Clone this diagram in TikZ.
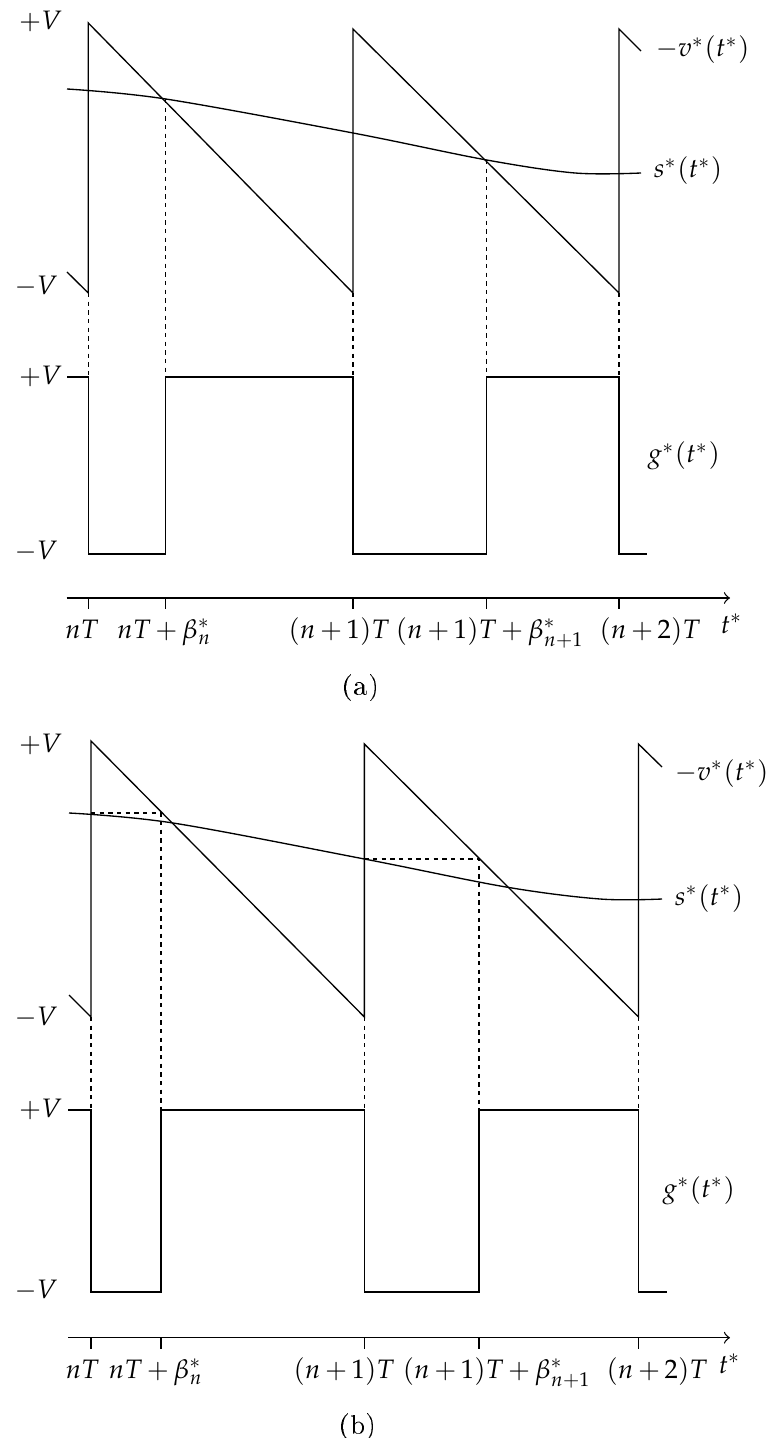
\documentclass[tikz,border=0pt]{standalone}
\usepackage[T1]{fontenc}
\usepackage{mathpazo}
\medmuskip=3mu plus 2mu minus 3mu
\begin{document}
\begin{tikzpicture}[x=0.3pt, y=-0.3pt, font=\fontsize{8}{9.6}\selectfont,
  guide/.style={dash pattern=on 1.3pt off 1.3pt},
  lbl/.style={anchor=base, inner sep=0pt},
  rlbl/.style={anchor=base west, inner sep=0pt}]
  \useasboundingbox (0,0) rectangle (774,1438);
  % (a) natural sampling
  \draw (67,272) -- (88.3,293) -- (88.3,23) -- (353,293) -- (353,29) -- (619,293) -- (619,29) -- (641,51);
  \draw plot[smooth, tension=0.55] coordinates {(67,89) (165.7,99) (353,133) (486.7,160) (575,173) (641,173)};
  \draw[guide] (88.3,293) -- (88.3,377) (165.7,99) -- (165.7,377) (353,293) -- (353,377)
    (486.7,160) -- (486.7,377) (619,293) -- (619,377);
  \draw (67,377) -- (88.3,377) -- (88.3,554) -- (165.7,554) -- (165.7,377) -- (353,377) -- (353,554)
    -- (486.7,554) -- (486.7,377) -- (619,377) -- (619,554) -- (647,554);
  \draw[->] (66.7,598) -- (730,598);
  \draw (88.3,598) -- (88.3,609) (165.7,598) -- (165.7,609) (353,598) -- (353,609)
    (486.7,598) -- (486.7,609) (619,598) -- (619,609);
  \node[lbl] (vtopA) at (40.5,30) {$+V$};
  \node[lbl] (vbotA) at (36,295) {$-V$};
  \node[lbl] (gtopA) at (40.5,385) {$+V$};
  \node[lbl] (gbotA) at (36,560) {$-V$};
  \node[rlbl] (vlblA) at (655,57) {$-v^*(t^*)$};
  \node[rlbl] (slblA) at (653,178) {$s^*(t^*)$};
  \node[rlbl] (glblA) at (647,463) {$g^*(t^*)$};
  \node[lbl] (tnA) at (82,638) {$nT$};
  \node[lbl] (tbA) at (164.5,638) {$nT+\beta_n^*$};
  \node[lbl] (tnoneA) at (339,638) {$(n+1)T$};
  \node[lbl] (tboneA) at (490,638) {$(n+1)T+\beta_{n+1}^*$};
  \node[lbl] (tntwoA) at (650,638) {$(n+2)T$};
  \node[rlbl] (taxA) at (720,633) {$t^*$};
  \node[lbl] (capA) at (361,694) {\fontfamily{uop}\selectfont (a)};
  % (b) uniform sampling
  \draw (69,995) -- (91,1017) -- (91,741) -- (364.4,1017) -- (364.4,744) -- (638.5,1017) -- (638.5,744) -- (662,767);
  \draw plot[smooth, tension=0.55] coordinates {(69,813) (173,823) (364.4,859) (506,887) (600,899) (662,899)};
  \draw[guide] (91,813) -- (161,813) -- (161,1110) (364.4,859) -- (479,859) -- (479,1110)
    (91,1017) -- (91,1110) (364.4,1017) -- (364.4,1110) (638.5,1017) -- (638.5,1110);
  \draw (68,1110) -- (91,1110) -- (91,1292) -- (161,1292) -- (161,1110) -- (364.4,1110) -- (364.4,1292)
    -- (479,1292) -- (479,1110) -- (638.5,1110) -- (638.5,1292) -- (667,1292);
  \draw[->] (68,1337.7) -- (730,1337.7);
  \draw (91,1337.7) -- (91,1348.7) (161,1337.7) -- (161,1348.7) (364.4,1337.7) -- (364.4,1348.7)
    (479,1337.7) -- (479,1348.7) (638.5,1337.7) -- (638.5,1348.7);
  \node[lbl] (vtopB) at (40.5,752) {$+V$};
  \node[lbl] (vbotB) at (36,1025) {$-V$};
  \node[lbl] (gtopB) at (40.5,1117) {$+V$};
  \node[lbl] (gbotB) at (36,1298) {$-V$};
  \node[rlbl] (vlblB) at (674,780) {$-v^*(t^*)$};
  \node[rlbl] (slblB) at (674,905) {$s^*(t^*)$};
  \node[rlbl] (glblB) at (662,1197) {$g^*(t^*)$};
  \node[lbl] (tnB) at (82.5,1378) {$nT$};
  \node[lbl] (tbB) at (156,1378) {$nT+\beta_n^*$};
  \node[lbl] (tnoneB) at (344,1378) {$(n+1)T$};
  \node[lbl] (tboneB) at (497,1378) {$(n+1)T+\beta_{n+1}^*$};
  \node[lbl] (tntwoB) at (657,1378) {$(n+2)T$};
  \node[rlbl] (taxB) at (718,1373) {$t^*$};
  \node[lbl] (capB) at (358,1433) {\fontfamily{uop}\selectfont (b)};
\end{tikzpicture}
\end{document}
